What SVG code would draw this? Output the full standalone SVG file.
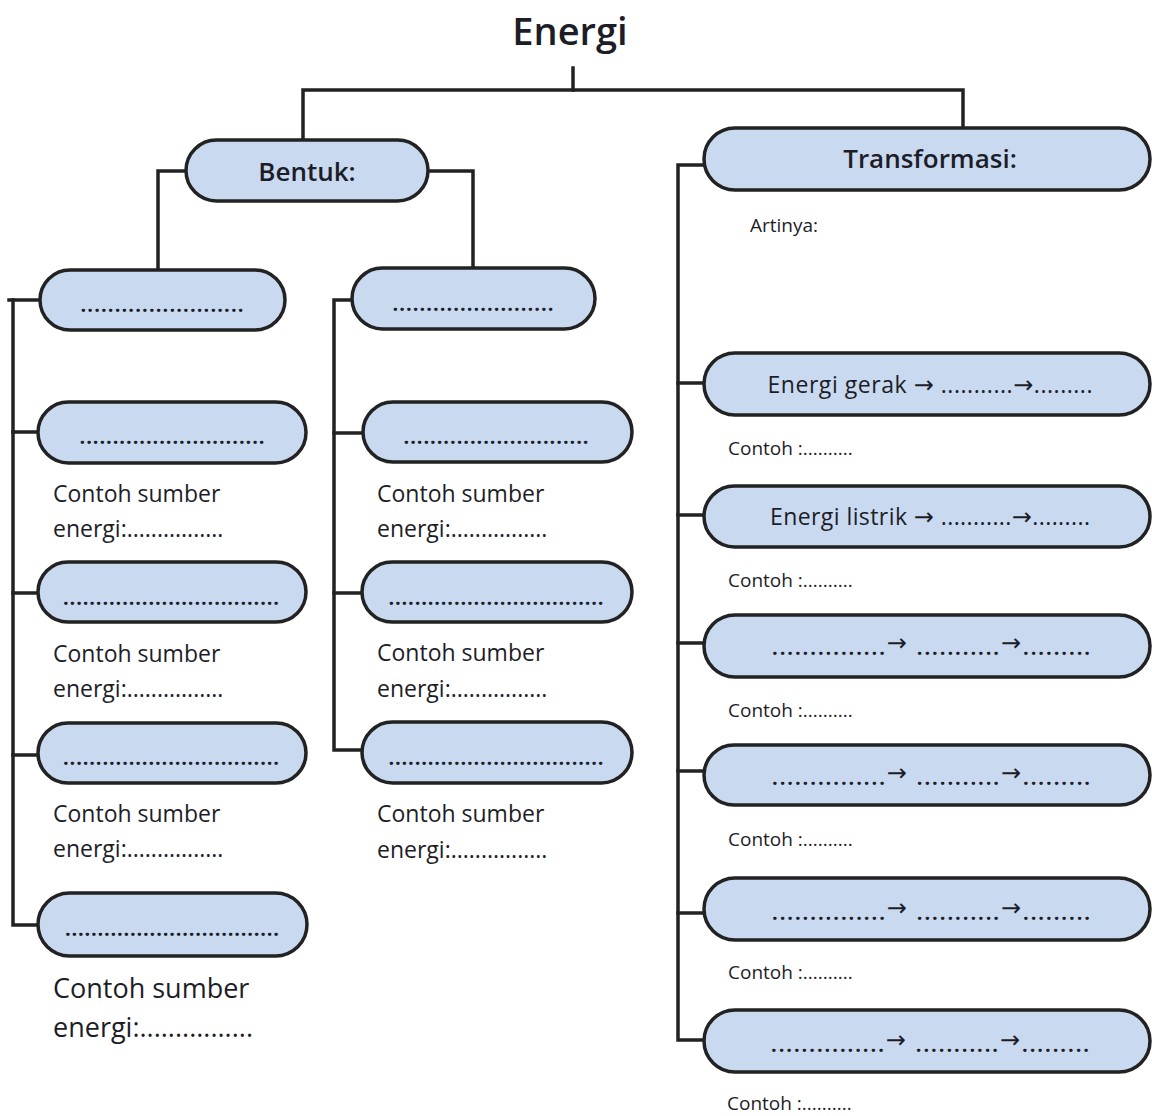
<svg xmlns="http://www.w3.org/2000/svg" width="1152" height="1116" viewBox="0 0 1152 1116">
<style>
.box{fill:#c9d9ef;stroke:#222;stroke-width:3.5}
.ln{fill:none;stroke:#222;stroke-width:3.5;stroke-linecap:square;stroke-linejoin:miter}
.t{font-family:"Open Sans","Liberation Sans",sans-serif;fill:#1d1d28}
.hd{font-size:26px;font-weight:600;text-anchor:middle}
.dots{font-size:20px;font-weight:700;text-anchor:middle}
.cs{font-size:23px}
.cs2{font-size:27px}
.ct{font-size:19px}
.tr{font-size:23px;text-anchor:middle}
.ar{font-family:"DejaVu Sans",sans-serif;font-size:24px}
.dd{font-weight:700;font-size:20px}
</style>
<rect width="1152" height="1116" fill="#ffffff"/>
<g id="connectors">
<path class="ln" d="M573 68 V90"/>
<path class="ln" d="M303 140 V90 H963 V128"/>
<path class="ln" d="M186 171 H158 V270"/>
<path class="ln" d="M428 171 H473 V268"/>
<path class="ln" d="M40 300 H9"/>
<path class="ln" d="M13 300 V925 H38"/>
<path class="ln" d="M13 432 H38"/>
<path class="ln" d="M13 593 H38"/>
<path class="ln" d="M13 755 H38"/>
<path class="ln" d="M352 300 H334 V750 H362"/>
<path class="ln" d="M334 433 H363"/>
<path class="ln" d="M334 593 H362"/>
<path class="ln" d="M704 165 H678 V1040 H704"/>
<path class="ln" d="M678 383 H704"/>
<path class="ln" d="M678 515 H704"/>
<path class="ln" d="M678 643 H704"/>
<path class="ln" d="M678 771 H704"/>
<path class="ln" d="M678 913 H704"/>
</g>
<g id="title"><text class="t" x="570" y="45" font-size="38" font-weight="600" text-anchor="middle">Energi</text></g>
<g id="bentuk"><rect class="box" x="186" y="140" width="242" height="61" rx="30.5"/><text class="t hd" x="307" y="181">Bentuk:</text></g>
<g id="transformasi"><rect class="box" x="704" y="128" width="446" height="62" rx="31"/><text class="t hd" x="930" y="168">Transformasi:</text></g>
<g id="artinya"><text class="t ct" x="750" y="232">Artinya:</text></g>

<g id="left-1"><rect class="box" x="40" y="270" width="245" height="60" rx="30"/><text class="t dots" x="162" y="312" textLength="163" lengthAdjust="spacing">........................</text></g>
<g id="left-2"><rect class="box" x="38" y="402" width="268" height="61" rx="30.5"/><text class="t dots" x="172" y="444" textLength="185" lengthAdjust="spacing">............................</text>
<text class="t cs" x="53" y="502">Contoh sumber</text><text class="t cs" x="53" y="537">energi:................</text></g>
<g id="left-3"><rect class="box" x="38" y="562" width="268" height="60" rx="30"/><text class="t dots" x="171" y="605" textLength="216" lengthAdjust="spacing">.................................</text>
<text class="t cs" x="53" y="662">Contoh sumber</text><text class="t cs" x="53" y="697">energi:................</text></g>
<g id="left-4"><rect class="box" x="38" y="723" width="268" height="60" rx="30"/><text class="t dots" x="171" y="765" textLength="216" lengthAdjust="spacing">.................................</text>
<text class="t cs" x="53" y="822">Contoh sumber</text><text class="t cs" x="53" y="857">energi:................</text></g>
<g id="left-5"><rect class="box" x="38" y="893" width="269" height="63" rx="31.5"/><text class="t dots" x="172" y="936" textLength="214" lengthAdjust="spacing">.................................</text>
<text class="t cs2" x="53" y="998">Contoh sumber</text><text class="t cs2" x="53" y="1037">energi:................</text></g>

<g id="mid-1"><rect class="box" x="352" y="268" width="243" height="61" rx="30.5"/><text class="t dots" x="473" y="311" textLength="161" lengthAdjust="spacing">........................</text></g>
<g id="mid-2"><rect class="box" x="363" y="402" width="269" height="60" rx="30"/><text class="t dots" x="496" y="444" textLength="185" lengthAdjust="spacing">............................</text>
<text class="t cs" x="377" y="502">Contoh sumber</text><text class="t cs" x="377" y="537">energi:................</text></g>
<g id="mid-3"><rect class="box" x="362" y="562" width="270" height="60" rx="30"/><text class="t dots" x="496" y="605" textLength="215" lengthAdjust="spacing">.................................</text>
<text class="t cs" x="377" y="661">Contoh sumber</text><text class="t cs" x="377" y="697">energi:................</text></g>
<g id="mid-4"><rect class="box" x="362" y="722" width="270" height="61" rx="30.5"/><text class="t dots" x="496" y="765" textLength="215" lengthAdjust="spacing">.................................</text>
<text class="t cs" x="377" y="822">Contoh sumber</text><text class="t cs" x="377" y="858">energi:................</text></g>

<g id="right-1"><rect class="box" x="704" y="353" width="446" height="62" rx="31"/><text class="t tr" x="930" y="393" textLength="325" lengthAdjust="spacing">Energi gerak <tspan class="ar">→</tspan> ...........<tspan class="ar">→</tspan>.........</text>
<text class="t ct" x="728" y="455">Contoh :..........</text></g>
<g id="right-2"><rect class="box" x="704" y="486" width="446" height="61" rx="30.5"/><text class="t tr" x="930" y="525" textLength="320" lengthAdjust="spacing">Energi listrik <tspan class="ar">→</tspan> ...........<tspan class="ar">→</tspan>.........</text>
<text class="t ct" x="728" y="587">Contoh :..........</text></g>
<g id="right-3"><rect class="box" x="704" y="615" width="446" height="62" rx="31"/><text class="t tr" x="931" y="655" textLength="318" lengthAdjust="spacing"><tspan class="dd">...............</tspan><tspan class="ar" dy="-4">→</tspan><tspan dy="4"> </tspan><tspan class="dd">...........</tspan><tspan class="ar" dy="-4">→</tspan><tspan class="dd" dy="4">.........</tspan></text>
<text class="t ct" x="728" y="717">Contoh :..........</text></g>
<g id="right-4"><rect class="box" x="704" y="745" width="446" height="60" rx="30"/><text class="t tr" x="931" y="785" textLength="318" lengthAdjust="spacing"><tspan class="dd">...............</tspan><tspan class="ar" dy="-4">→</tspan><tspan dy="4"> </tspan><tspan class="dd">...........</tspan><tspan class="ar" dy="-4">→</tspan><tspan class="dd" dy="4">.........</tspan></text>
<text class="t ct" x="728" y="846">Contoh :..........</text></g>
<g id="right-5"><rect class="box" x="704" y="878" width="446" height="62" rx="31"/><text class="t tr" x="931" y="920" textLength="318" lengthAdjust="spacing"><tspan class="dd">...............</tspan><tspan class="ar" dy="-4">→</tspan><tspan dy="4"> </tspan><tspan class="dd">...........</tspan><tspan class="ar" dy="-4">→</tspan><tspan class="dd" dy="4">.........</tspan></text>
<text class="t ct" x="728" y="979">Contoh :..........</text></g>
<g id="right-6"><rect class="box" x="704" y="1010" width="446" height="62" rx="31"/><text class="t tr" x="930" y="1052" textLength="318" lengthAdjust="spacing"><tspan class="dd">...............</tspan><tspan class="ar" dy="-4">→</tspan><tspan dy="4"> </tspan><tspan class="dd">...........</tspan><tspan class="ar" dy="-4">→</tspan><tspan class="dd" dy="4">.........</tspan></text>
<text class="t ct" x="727" y="1110">Contoh :..........</text></g>
</svg>
